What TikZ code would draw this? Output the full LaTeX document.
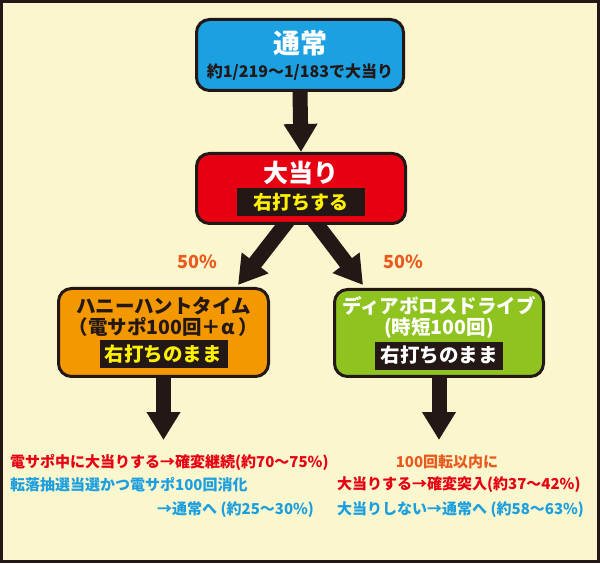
\documentclass[tikz,border=0pt]{standalone}
\usepackage{fontspec}
\setmainfont{Noto Sans CJK JP}
\usepackage{xcolor}
\usepackage{tikz}
\usetikzlibrary{arrows.meta}
\usetikzlibrary{backgrounds}
\usetikzlibrary{calc}
\definecolor{ink}{HTML}{231815}
\definecolor{cream}{HTML}{FAF6CD}
\definecolor{skyblue}{HTML}{1BA1E2}
\definecolor{bigred}{HTML}{E60012}
\definecolor{honey}{HTML}{F39800}
\definecolor{leaf}{HTML}{8FC31F}
\definecolor{hilite}{HTML}{FFF100}
\definecolor{hot}{HTML}{E60012}
\definecolor{warm}{HTML}{EA5A1E}
\definecolor{cool}{HTML}{1B9FE0}
\newcommand{\band}[2]{{\setlength{\fboxsep}{0pt}\colorbox{ink}{\parbox[c][28pt][c]{128pt}{\centering\color{#1}#2}}}}

\begin{document}
\begin{tikzpicture}[
    x=1pt, y=1pt,
    stage/.style={draw=ink, line width=3pt, rounded corners=13pt, align=center, inner sep=0pt},
    bigarrow/.style={draw=ink, line width=15pt, -{Triangle[width=32pt,length=28pt]}},
    note/.style={anchor=west, inner sep=0pt, font=\bfseries\fontsize{15}{17}\selectfont},
    rate/.style={text=warm, font=\bfseries\fontsize{18}{20}\selectfont}
    ]
\useasboundingbox (0,0) rectangle (600,563);

% states
\node[stage, fill=skyblue, text=white, minimum width=207pt, minimum height=71pt,
      font=\bfseries\fontsize{16}{19}\selectfont] (tsujo) at (300,508)
  {{\fontsize{27}{30}\selectfont 通常}\\[5pt] \textcolor{ink}{約1/219～1/183で大当り}};
\node[stage, fill=bigred, text=white, minimum width=209pt, minimum height=70pt,
      font=\bfseries\fontsize{25}{28}\selectfont] (atari) at (301,374.5)
  {大当り\\[-2pt] \band{hilite}{\fontsize{19}{21}\selectfont 右打ちする}};
\node[stage, fill=honey, text=ink, minimum width=210pt, minimum height=88pt,
      font=\bfseries\fontsize{19.5}{21}\selectfont] (haney) at (163.5,230.5)
  {ハニーハントタイム\\（電サポ100回＋α ）\\[2pt] \band{hilite}{右打ちのまま}};
\node[stage, fill=leaf, text=white, minimum width=209pt, minimum height=87pt,
      font=\bfseries\fontsize{19.5}{21}\selectfont] (diablo) at (439,230)
  {ディアボロスドライブ\\(時短100回)\\[2pt] \band{white}{右打ちのまま}};

\node[rate] (rateL) at (197,301) {50\%};
\node[rate] (rateR) at (403,301) {50\%};

\coordinate (haneyend) at (163.5,123);
\coordinate (diabloend) at (439,123);

% results
\node[note, text=hot] (haneyA) at (10,101) {電サポ中に大当りする→確変継続(約70～75\%)};
\node[note, text=cool] (haneyB) at (10,78) {転落抽選当選かつ電サポ100回消化};
\node[note, text=cool] (haneyC) at (157,53) {→通常へ (約25～30\%)};
\node[note, anchor=center, text=warm] (diabloA) at (447,101) {100回転以内に};
\node[note, text=hot] (diabloB) at (337,78) {大当りする→確変突入(約37～42\%)};
\node[note, text=cool] (diabloC) at (337,53) {大当りしない→通常へ (約58～63\%)};

\begin{scope}[on background layer]
\fill[cream] (0,0) rectangle (600,563);
\draw[ink, line width=3pt] (1.5,1.5) rectangle (598.5,561.5);
\draw[bigarrow] (tsujo.south) -- (atari.north);
\draw[bigarrow] ($(atari.south)+(-11,7)$) -- ($(haney.north east)+(-32,2)$);
\draw[bigarrow] ($(atari.south)+(11,7)$) -- ($(diablo.north west)+(30,3)$);
\draw[bigarrow] (haney.south) -- (haneyend);
\draw[bigarrow] (diablo.south) -- (diabloend);
\end{scope}
\end{tikzpicture}
\end{document}
